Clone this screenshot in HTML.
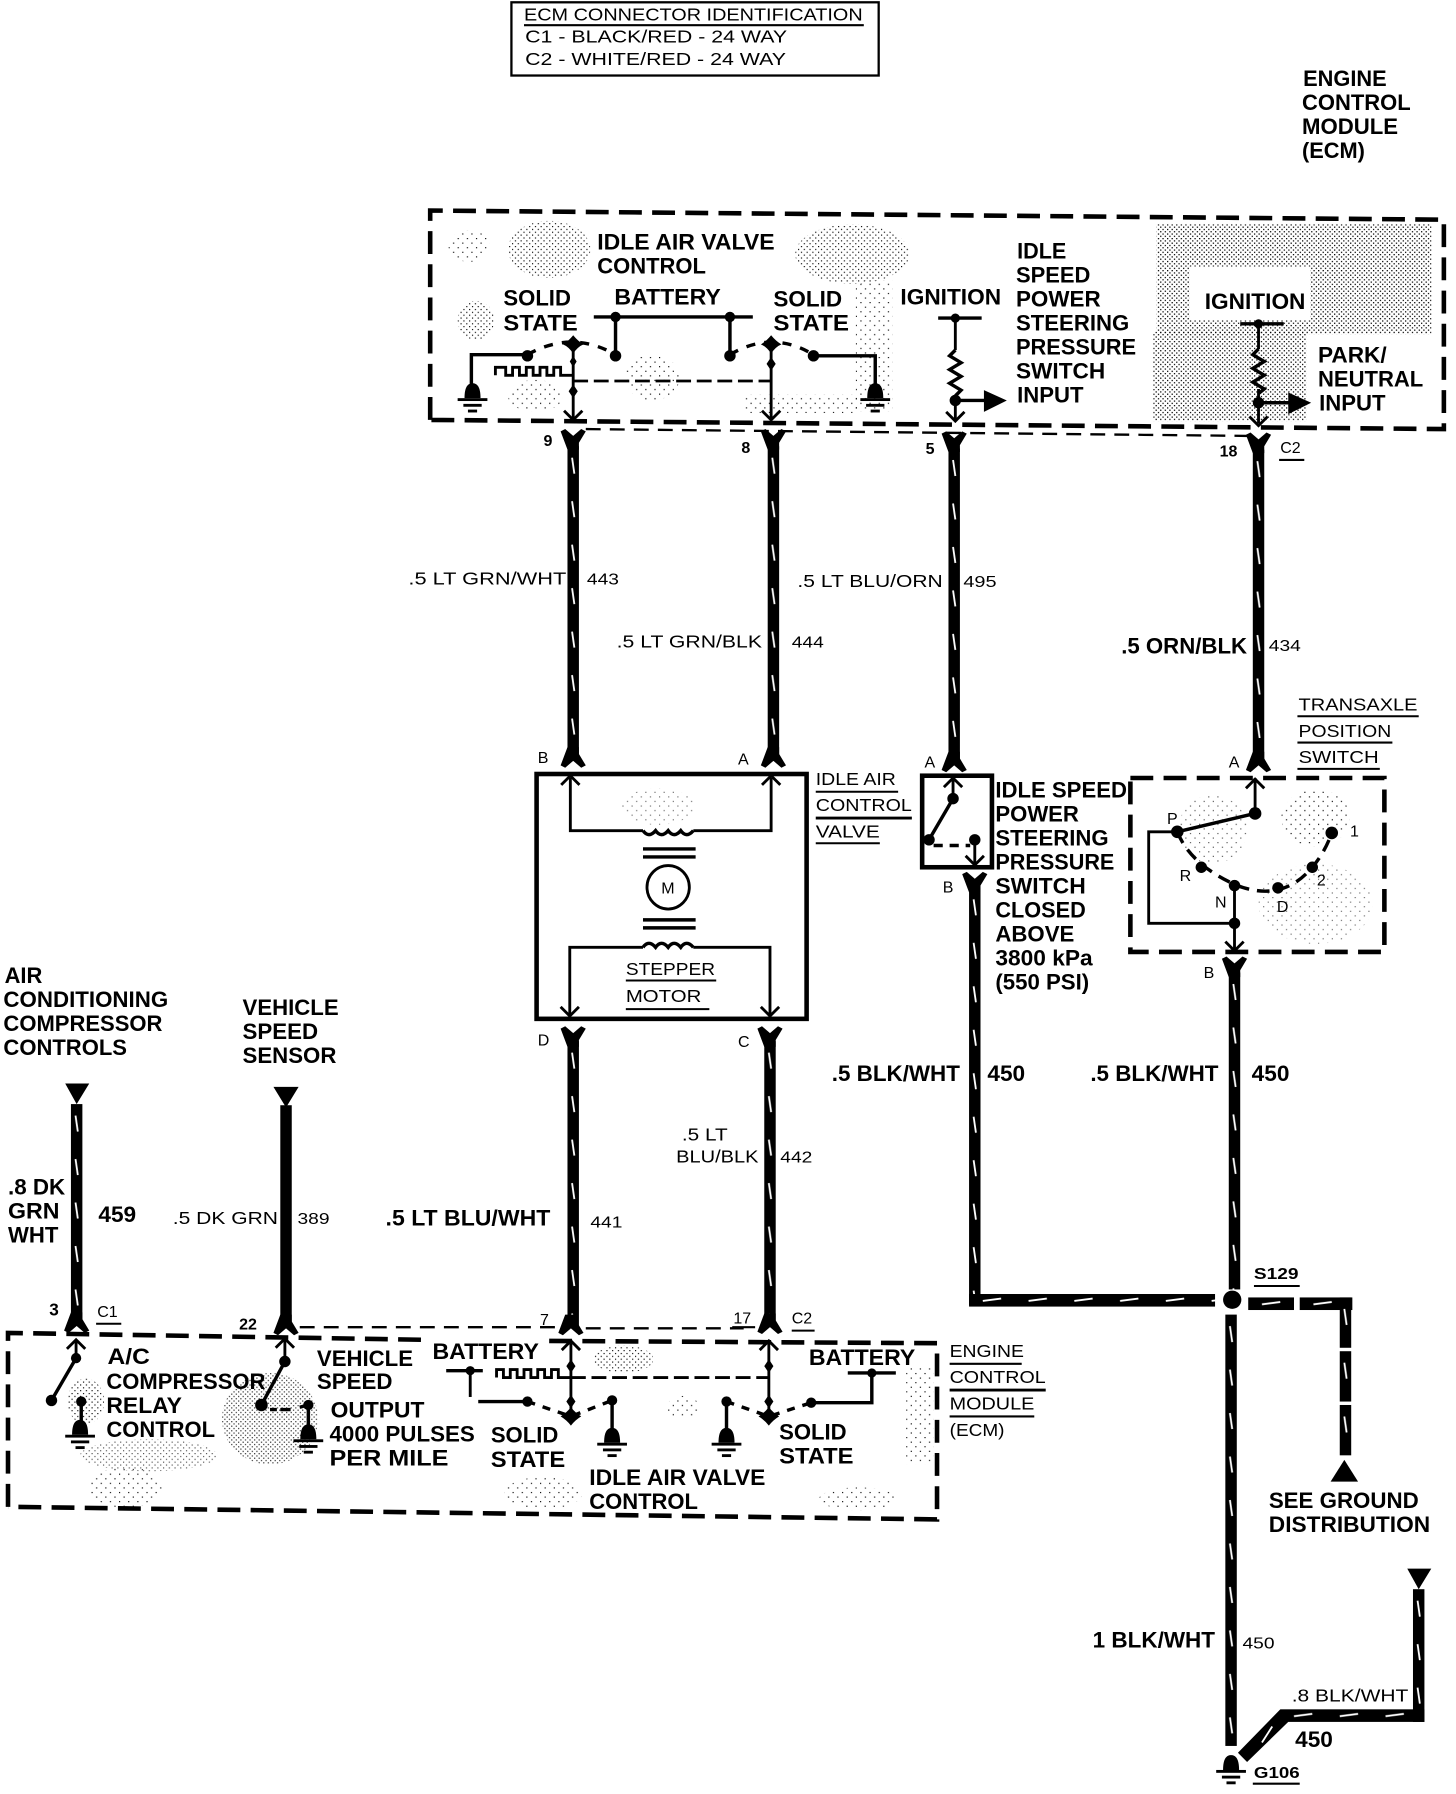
<!DOCTYPE html>
<html><head><meta charset="utf-8"><style>
html,body{margin:0;padding:0;background:#fff}
svg{display:block}
text{font-family:"Liberation Sans",sans-serif;fill:#000}
.b{font-weight:bold;font-size:19.5px}
.r{font-size:15px}
.n{font-size:14px}
.t{stroke:#000;stroke-width:3;fill:none}
.m{stroke:#000;stroke-width:2.5;fill:none}
.u{stroke:#000;stroke-width:1.8}
.d{stroke:#000;stroke-width:4;fill:none;stroke-dasharray:20 9}
</style></head><body>
<svg width="1456" height="1794" viewBox="0 0 1272.6 1568" xmlns="http://www.w3.org/2000/svg">
<defs>
<pattern id="p1" width="4" height="4" patternUnits="userSpaceOnUse"><rect width="1.1" height="1.1" fill="#000"/><rect x="2" y="2" width="1.1" height="1.1" fill="#000"/></pattern>
<pattern id="p3" width="5" height="5" patternUnits="userSpaceOnUse"><rect width="1" height="1" fill="#000"/><rect x="2.5" y="2.5" width="1" height="1" fill="#000"/></pattern>
<pattern id="p2" width="8" height="8" patternUnits="userSpaceOnUse"><rect width="1" height="1" fill="#000"/><rect x="4" y="4" width="1" height="1" fill="#000"/></pattern>
<pattern id="vw" width="10" height="38" patternUnits="userSpaceOnUse"><rect width="10" height="38" fill="#000"/><path d="M4 10L6 24" stroke="#fff" stroke-width="1.6"/></pattern>
<pattern id="hw" width="40" height="10" patternUnits="userSpaceOnUse"><rect width="40" height="10" fill="#000"/><path d="M12 6L28 4" stroke="#fff" stroke-width="1.6"/></pattern>
<path id="yf" d="M-11 -1L-7 -3L0 3L7 -3L11 -1L5 9L5 15L-5 15Z"/>
<path id="ah" d="M-8 -8L0 0L8 -8" fill="none" stroke="#000" stroke-width="2.5"/>
<g id="gnd"><path d="M-7 13C-7 3 -4 0 0 0C4 0 7 3 7 13Z"/><rect x="-13" y="13" width="26" height="2.5"/><rect x="-8" y="18" width="16" height="2.5"/><rect x="-4" y="23" width="8" height="2.5"/></g>
</defs>

<!-- stipple -->
<g>
<ellipse cx="480" cy="218" rx="36" ry="25" fill="url(#p3)"/>
<ellipse cx="416" cy="280" rx="16" ry="17" fill="url(#p3)"/>
<ellipse cx="410" cy="215" rx="18" ry="14" fill="url(#p2)"/>
<ellipse cx="468" cy="346" rx="24" ry="14" fill="url(#p2)"/>
<ellipse cx="570" cy="330" rx="24" ry="20" fill="url(#p2)"/>
<ellipse cx="745" cy="222" rx="50" ry="26" fill="url(#p3)"/>
<rect x="748" y="245" width="32" height="115" fill="url(#p2)"/>
<rect x="650" y="345" width="100" height="16" fill="url(#p2)"/>
<rect x="1011" y="196" width="240" height="96" fill="url(#p1)"/>
<rect x="1008" y="290" width="134" height="78" fill="url(#p1)"/>
<rect x="1040" y="233" width="105" height="47" fill="#fff"/>
<ellipse cx="575" cy="705" rx="32" ry="16" fill="url(#p2)" opacity=".6"/>
<ellipse cx="1060" cy="725" rx="30" ry="30" fill="url(#p2)" opacity=".7"/>
<ellipse cx="1150" cy="790" rx="50" ry="35" fill="url(#p2)" opacity=".6"/>
<ellipse cx="1150" cy="715" rx="30" ry="25" fill="url(#p2)"/>
<ellipse cx="236" cy="1240" rx="42" ry="40" fill="url(#p1)" opacity=".75"/>
<ellipse cx="130" cy="1272" rx="60" ry="14" fill="url(#p3)" opacity=".7"/>
<ellipse cx="110" cy="1300" rx="32" ry="18" fill="url(#p2)"/>
<ellipse cx="75" cy="1225" rx="16" ry="20" fill="url(#p3)"/>
<ellipse cx="545" cy="1188" rx="26" ry="12" fill="url(#p3)"/>
<ellipse cx="475" cy="1305" rx="34" ry="14" fill="url(#p2)"/>
<ellipse cx="597" cy="1230" rx="14" ry="10" fill="url(#p2)"/>
<rect x="792" y="1195" width="24" height="85" fill="url(#p2)"/>
<ellipse cx="750" cy="1310" rx="34" ry="10" fill="url(#p2)"/>
</g>

<!-- Connector ID table -->
<rect x="447" y="2" width="321" height="64" fill="none" stroke="#000" stroke-width="2"/>
<line x1="458" y1="22" x2="755" y2="22" class="u"/>
<text class="r" x="458" y="18" textLength="296" lengthAdjust="spacingAndGlyphs">ECM CONNECTOR IDENTIFICATION</text>
<text class="r" x="459" y="37" textLength="229" lengthAdjust="spacingAndGlyphs">C1 - BLACK/RED - 24 WAY</text>
<text class="r" x="459" y="57" textLength="228" lengthAdjust="spacingAndGlyphs">C2 - WHITE/RED - 24 WAY</text>

<text class="b" x="1139" y="75" textLength="73" lengthAdjust="spacingAndGlyphs">ENGINE</text>
<text class="b" x="1138" y="96" textLength="95" lengthAdjust="spacingAndGlyphs">CONTROL</text>
<text class="b" x="1138" y="117" textLength="84" lengthAdjust="spacingAndGlyphs">MODULE</text>
<text class="b" x="1138" y="138" textLength="55" lengthAdjust="spacingAndGlyphs">(ECM)</text>

<!-- top ECM box -->
<path class="d" d="M376 367L376 184L1262 192L1262 375L376 367"/>
<path d="M512 375L1090 381" stroke="#000" stroke-width="2" stroke-dasharray="13 8" fill="none"/>
<text class="b" x="522" y="218" textLength="155" lengthAdjust="spacingAndGlyphs">IDLE AIR VALVE</text>
<text class="b" x="522" y="239" textLength="95" lengthAdjust="spacingAndGlyphs">CONTROL</text>
<text class="b" x="440" y="267" textLength="59" lengthAdjust="spacingAndGlyphs">SOLID</text>
<text class="b" x="440" y="289" textLength="65" lengthAdjust="spacingAndGlyphs">STATE</text>
<text class="b" x="537" y="266" textLength="93" lengthAdjust="spacingAndGlyphs">BATTERY</text>
<text class="b" x="676" y="268" textLength="60" lengthAdjust="spacingAndGlyphs">SOLID</text>
<text class="b" x="676" y="289" textLength="66" lengthAdjust="spacingAndGlyphs">STATE</text>
<text class="b" x="787" y="266" textLength="88" lengthAdjust="spacingAndGlyphs">IGNITION</text>
<text class="b" x="889" y="226" textLength="43" lengthAdjust="spacingAndGlyphs">IDLE</text>
<text class="b" x="888" y="247" textLength="65" lengthAdjust="spacingAndGlyphs">SPEED</text>
<text class="b" x="888" y="268" textLength="74" lengthAdjust="spacingAndGlyphs">POWER</text>
<text class="b" x="888" y="289" textLength="99" lengthAdjust="spacingAndGlyphs">STEERING</text>
<text class="b" x="888" y="310" textLength="105" lengthAdjust="spacingAndGlyphs">PRESSURE</text>
<text class="b" x="888" y="331" textLength="78" lengthAdjust="spacingAndGlyphs">SWITCH</text>
<text class="b" x="889" y="352" textLength="58" lengthAdjust="spacingAndGlyphs">INPUT</text>
<text class="b" x="1053" y="270" textLength="88" lengthAdjust="spacingAndGlyphs">IGNITION</text>
<text class="b" x="1152" y="317" textLength="60" lengthAdjust="spacingAndGlyphs">PARK/</text>
<text class="b" x="1152" y="338" textLength="92" lengthAdjust="spacingAndGlyphs">NEUTRAL</text>
<text class="b" x="1153" y="359" textLength="58" lengthAdjust="spacingAndGlyphs">INPUT</text>

<!-- top circuit -->
<path class="t" d="M519 277H658M538 277V311M638 277V311"/>
<circle cx="538" cy="277" r="4.500"/><circle cx="638" cy="277" r="4.500"/>
<circle cx="538" cy="311" r="5"/><circle cx="638" cy="311" r="5"/>
<path class="t" d="M412 342V310H461"/><circle cx="461" cy="311" r="5"/>
<path class="t" stroke-dasharray="8 8" d="M461 310Q500 288 538 310"/>
<path class="t" stroke-dasharray="8 8" d="M638 310Q675 288 711 310"/>
<path class="t" d="M711 311H765V338"/><circle cx="711" cy="311" r="5"/>
<use href="#gnd" x="413" y="335"/><use href="#gnd" x="765" y="335"/>
<path class="m" d="M501 299V367M674 299V367"/>
<use href="#ah" x="501" y="367"/><use href="#ah" x="674" y="367"/>
<path d="M492 301Q497 298 501 293Q505 298 510 301Q505 303 501 309Q497 303 492 301ZM665 301Q670 298 674 293Q678 298 683 301Q678 303 674 309Q670 303 665 301Z"/>
<path d="M501 336l4 6l-4 6l-4 -6zM674 312l4 6l-4 6l-4 -6zM501 311l3 5l-3 5l-3 -5z"/>
<path class="m" d="M433 328V321H442V328H448V321H454V328H460V321H466V328H472V321H478V328H484V321H490V328H500"/>
<path class="m" stroke-dasharray="13 5" d="M501 333H675"/>
<path d="M820 278H858" class="t"/><path class="m" d="M835 278V306M835 346V367"/>
<circle cx="835" cy="278" r="4"/>
<polyline class="t" points="835,306 830,311 840,317 830,323 840,329 830,335 840,341 835,346"/>
<circle cx="835" cy="350" r="5"/>
<path class="t" d="M835 350H862"/><path d="M860 341L880 350L860 360Z"/>
<use href="#ah" x="835" y="368"/>
<path class="t" d="M1084 283H1122"/><circle cx="1100" cy="283" r="4"/>
<path class="m" d="M1100 283V305M1100 340V370"/>
<polyline class="t" points="1100,305 1095,310 1105,316 1095,322 1105,328 1095,334 1105,340 1100,344"/>
<circle cx="1100" cy="352" r="5"/>
<path class="t" d="M1100 352H1128"/><path d="M1126 343L1146 352L1126 362Z"/>
<use href="#ah" x="1100" y="372"/>

<!-- top connector labels -->
<text class="n" x="475" y="390" font-weight="bold">9</text>
<text class="n" x="648" y="396" font-weight="bold">8</text>
<text class="n" x="809" y="397" font-weight="bold">5</text>
<text class="n" x="1066" y="399" font-weight="bold">18</text>
<text class="n" x="1119" y="396">C2</text><line x1="1118" y1="402" x2="1140" y2="402" class="u"/>
<use href="#yf" x="501" y="378"/><use href="#yf" x="676" y="378"/><use href="#yf" x="834" y="380"/><use href="#yf" x="1100" y="381"/>

<!-- vertical wires upper -->
<rect width="10" height="275" fill="url(#vw)" transform="translate(496,390)"/>
<rect width="10" height="275" fill="url(#vw)" transform="translate(671,390)"/>
<rect width="10" height="275" fill="url(#vw)" transform="translate(829,392)"/>
<rect width="10" height="272" fill="url(#vw)" transform="translate(1095,393)"/>

<text class="r" x="357" y="511" textLength="138" lengthAdjust="spacingAndGlyphs">.5 LT GRN/WHT</text>
<text class="n" x="513" y="511" textLength="28" lengthAdjust="spacingAndGlyphs">443</text>
<text class="r" x="539" y="566" textLength="127" lengthAdjust="spacingAndGlyphs">.5 LT GRN/BLK</text>
<text class="n" x="692" y="566" textLength="28" lengthAdjust="spacingAndGlyphs">444</text>
<text class="r" x="697" y="513" textLength="127" lengthAdjust="spacingAndGlyphs">.5 LT BLU/ORN</text>
<text class="n" x="842" y="513" textLength="29" lengthAdjust="spacingAndGlyphs">495</text>
<text class="b" x="980" y="571" textLength="110" lengthAdjust="spacingAndGlyphs">.5 ORN/BLK</text>
<text class="n" x="1109" y="569" textLength="28" lengthAdjust="spacingAndGlyphs">434</text>

<text class="r" x="1135" y="621" textLength="104" lengthAdjust="spacingAndGlyphs">TRANSAXLE</text><line x1="1134" y1="626" x2="1240" y2="626" class="u"/>
<text class="r" x="1135" y="644" textLength="81" lengthAdjust="spacingAndGlyphs">POSITION</text><line x1="1134" y1="649" x2="1217" y2="649" class="u"/>
<text class="r" x="1135" y="667" textLength="70" lengthAdjust="spacingAndGlyphs">SWITCH</text><line x1="1134" y1="672" x2="1206" y2="672" class="u"/>

<!-- motor -->
<use href="#yf" transform="translate(501,668) scale(1,-1)"/><use href="#yf" transform="translate(676,668) scale(1,-1)"/>
<use href="#yf" transform="translate(834,672) scale(1,-1)"/><use href="#yf" transform="translate(1100,672) scale(1,-1)"/>
<text class="n" x="470" y="667">B</text><text class="n" x="645" y="668">A</text><text class="n" x="808" y="671">A</text><text class="n" x="1074" y="671">A</text>
<rect x="469" y="676.5" width="236" height="214" fill="none" stroke="#000" stroke-width="4"/>
<path class="m" d="M498.500 680V726H562M606 726H674V680"/>
<path class="t" d="M562 726q5 7 11 0q5 7 11 0q5 7 11 0q5 7 11 0"/>
<use href="#ah" transform="translate(498.500,678) scale(1,-1)"/><use href="#ah" transform="translate(674,678) scale(1,-1)"/>
<path class="t" d="M562 742H608M562 749H608M562 804H608M562 811H608"/>
<ellipse cx="584" cy="775.500" rx="18.500" ry="19" fill="none" stroke="#000" stroke-width="2.500"/>
<text class="n" x="578" y="781">M</text>
<path class="t" d="M562 828q5 -7 11 0q5 -7 11 0q5 -7 11 0q5 -7 11 0"/>
<path class="m" d="M498 888V828H562M606 828H673V888"/>
<use href="#ah" x="498" y="888"/><use href="#ah" x="673" y="888"/>
<text class="r" x="547" y="852" textLength="78" lengthAdjust="spacingAndGlyphs">STEPPER</text><line x1="547" y1="857" x2="626" y2="857" class="u"/>
<text class="r" x="547" y="876" textLength="66" lengthAdjust="spacingAndGlyphs">MOTOR</text><line x1="547" y1="882" x2="620" y2="882" class="u"/>
<text class="r" x="713" y="686" textLength="70" lengthAdjust="spacingAndGlyphs">IDLE AIR</text><line x1="713" y1="692" x2="785" y2="692" class="u"/>
<text class="r" x="713" y="709" textLength="84" lengthAdjust="spacingAndGlyphs">CONTROL</text><line x1="713" y1="715" x2="797" y2="715" stroke="#000" stroke-width="2.500"/>
<text class="r" x="713" y="732" textLength="56" lengthAdjust="spacingAndGlyphs">VALVE</text><line x1="713" y1="737" x2="769" y2="737" class="u"/>
<text class="n" x="470" y="914">D</text><text class="n" x="645" y="915">C</text>
<use href="#yf" x="501" y="900"/><use href="#yf" x="673" y="900"/>

<!-- pressure switch -->
<rect x="806" y="678" width="61" height="80" fill="none" stroke="#000" stroke-width="4"/>
<path class="m" d="M833 680V698M852 734V756"/><use href="#ah" transform="translate(833,680) scale(1,-1)"/><use href="#ah" x="852" y="756"/>
<circle cx="833" cy="698" r="5"/><circle cx="812" cy="734" r="5"/><circle cx="852" cy="734" r="5"/>
<path class="t" d="M833 698L812 734"/><path class="t" stroke-dasharray="8 6" d="M816 739H848"/>
<text class="n" x="824" y="780">B</text>
<use href="#yf" x="852" y="765"/>
<text class="b" x="870" y="697" textLength="115" lengthAdjust="spacingAndGlyphs">IDLE SPEED</text>
<text class="b" x="870" y="718" textLength="73" lengthAdjust="spacingAndGlyphs">POWER</text>
<text class="b" x="870" y="739" textLength="99" lengthAdjust="spacingAndGlyphs">STEERING</text>
<text class="b" x="870" y="760" textLength="104" lengthAdjust="spacingAndGlyphs">PRESSURE</text>
<text class="b" x="870" y="781" textLength="79" lengthAdjust="spacingAndGlyphs">SWITCH</text>
<text class="b" x="870" y="802" textLength="79" lengthAdjust="spacingAndGlyphs">CLOSED</text>
<text class="b" x="870" y="823" textLength="69" lengthAdjust="spacingAndGlyphs">ABOVE</text>
<text class="b" x="870" y="844" textLength="85" lengthAdjust="spacingAndGlyphs">3800 kPa</text>
<text class="b" x="870" y="865" textLength="82" lengthAdjust="spacingAndGlyphs">(550 PSI)</text>

<!-- transaxle switch -->
<rect x="988" y="680" width="222" height="152" class="d"/>
<path class="m" d="M1097 680V711"/><use href="#ah" transform="translate(1097,681) scale(1,-1)"/>
<circle cx="1097" cy="711" r="5.500"/><circle cx="1029" cy="727" r="5.500"/>
<path d="M1097 711L1029 727" class="t"/>
<path class="m" d="M1029 727H1004V807H1079"/>
<circle cx="1079" cy="807" r="5"/>
<path class="m" d="M1079 773V830"/><use href="#ah" x="1079" y="831"/>
<path class="t" stroke-dasharray="11 7" d="M1029 727Q1040 755 1079 773Q1120 790 1147 758Q1158 745 1164 728"/>
<circle cx="1050" cy="758" r="5"/><circle cx="1079" cy="774" r="5"/><circle cx="1117" cy="776" r="5"/><circle cx="1147" cy="758" r="5"/><circle cx="1164" cy="728" r="5.500"/>
<text class="n" x="1020" y="720">P</text><text class="n" x="1031" y="770">R</text><text class="n" x="1062" y="793">N</text><text class="n" x="1116" y="797">D</text><text class="n" x="1151" y="774">2</text><text class="n" x="1180" y="731">1</text>
<text class="n" x="1052" y="855">B</text>
<use href="#yf" x="1079" y="839"/>

<!-- lower wires -->
<rect width="10" height="365" fill="url(#vw)" transform="translate(847,776)"/>
<rect width="10" height="277" fill="url(#vw)" transform="translate(1074,850)"/>
<rect width="215" height="11" fill="url(#hw)" transform="translate(847,1131)"/>
<circle cx="1077" cy="1136" r="8"/>
<text class="n" x="1096" y="1118" font-weight="bold" textLength="39" lengthAdjust="spacingAndGlyphs">S129</text><line x1="1096" y1="1124" x2="1136" y2="1124" class="u"/>
<rect width="10" height="377" fill="url(#vw)" transform="translate(1071,1149)"/>
<rect width="40" height="11" fill="url(#hw)" transform="translate(1091,1134)"/>
<rect width="46" height="11" fill="url(#hw)" transform="translate(1136,1134)"/>
<rect width="10" height="44" fill="url(#vw)" transform="translate(1171,1134)"/>
<rect width="10" height="44" fill="url(#vw)" transform="translate(1171,1181)"/>
<rect width="10" height="44" fill="url(#vw)" transform="translate(1171,1228)"/>
<path d="M1175 1276L1163 1295H1187Z"/>
<text class="b" x="1109" y="1318" textLength="131" lengthAdjust="spacingAndGlyphs">SEE GROUND</text>
<text class="b" x="1109" y="1339" textLength="141" lengthAdjust="spacingAndGlyphs">DISTRIBUTION</text>
<path d="M1230 1371H1251L1240 1389Z"/>
<rect width="10" height="116" fill="url(#vw)" transform="translate(1235,1389)"/>
<rect width="126" height="11" fill="url(#hw)" transform="translate(1119,1494)"/>
<path d="M1119 1494L1082 1532L1090 1540L1126 1505Z"/>
<path d="M1112 1509L1103 1523" stroke="#fff" stroke-width="1.600"/>
<text class="r" x="1129" y="1487" textLength="102" lengthAdjust="spacingAndGlyphs">.8 BLK/WHT</text>
<text class="b" x="1132" y="1527" textLength="33" lengthAdjust="spacingAndGlyphs">450</text>
<text class="b" x="955" y="1440" textLength="107" lengthAdjust="spacingAndGlyphs">1 BLK/WHT</text>
<text class="n" x="1086" y="1441" textLength="28" lengthAdjust="spacingAndGlyphs">450</text>
<use href="#gnd" x="1076" y="1534"/>
<text class="n" x="1096" y="1554" font-weight="bold" textLength="40" lengthAdjust="spacingAndGlyphs">G106</text><line x1="1095" y1="1559" x2="1136" y2="1559" class="u"/>

<text class="b" x="727" y="945" textLength="112" lengthAdjust="spacingAndGlyphs">.5 BLK/WHT</text>
<text class="b" x="863" y="945" textLength="33" lengthAdjust="spacingAndGlyphs">450</text>
<text class="b" x="953" y="945" textLength="112" lengthAdjust="spacingAndGlyphs">.5 BLK/WHT</text>
<text class="b" x="1094" y="945" textLength="33" lengthAdjust="spacingAndGlyphs">450</text>

<rect width="10" height="250" fill="url(#vw)" transform="translate(496,910)"/>
<rect width="10" height="250" fill="url(#vw)" transform="translate(668,910)"/>
<text class="b" x="337" y="1071" textLength="144" lengthAdjust="spacingAndGlyphs">.5 LT BLU/WHT</text>
<text class="n" x="516" y="1073" textLength="28" lengthAdjust="spacingAndGlyphs">441</text>
<text class="r" x="596" y="997" textLength="40" lengthAdjust="spacingAndGlyphs">.5 LT</text>
<text class="r" x="591" y="1016" textLength="72" lengthAdjust="spacingAndGlyphs">BLU/BLK</text>
<text class="n" x="682" y="1016" textLength="28" lengthAdjust="spacingAndGlyphs">442</text>

<!-- left inputs -->
<text class="b" x="4" y="859" textLength="33" lengthAdjust="spacingAndGlyphs">AIR</text>
<text class="b" x="3" y="880" textLength="144" lengthAdjust="spacingAndGlyphs">CONDITIONING</text>
<text class="b" x="3" y="901" textLength="139" lengthAdjust="spacingAndGlyphs">COMPRESSOR</text>
<text class="b" x="3" y="922" textLength="108" lengthAdjust="spacingAndGlyphs">CONTROLS</text>
<text class="b" x="212" y="887" textLength="84" lengthAdjust="spacingAndGlyphs">VEHICLE</text>
<text class="b" x="212" y="908" textLength="66" lengthAdjust="spacingAndGlyphs">SPEED</text>
<text class="b" x="212" y="929" textLength="82" lengthAdjust="spacingAndGlyphs">SENSOR</text>
<path d="M57 947H78L67 965ZM239 950H261L250 968Z"/>
<rect width="10" height="190" fill="url(#vw)" transform="translate(62,965)"/>
<rect x="245" y="966" width="10" height="190"/>
<text class="b" x="7" y="1044" textLength="50" lengthAdjust="spacingAndGlyphs">.8 DK</text>
<text class="b" x="7" y="1065" textLength="45" lengthAdjust="spacingAndGlyphs">GRN</text>
<text class="b" x="7" y="1086" textLength="44" lengthAdjust="spacingAndGlyphs">WHT</text>
<text class="b" x="86" y="1068" textLength="33" lengthAdjust="spacingAndGlyphs">459</text>
<text class="r" x="151" y="1070" textLength="92" lengthAdjust="spacingAndGlyphs">.5 DK GRN</text>
<text class="n" x="260" y="1070" textLength="28" lengthAdjust="spacingAndGlyphs">389</text>

<text x="43" y="1150" font-weight="bold" font-size="15">3</text>
<text class="n" x="85" y="1151">C1</text><line x1="84" y1="1157" x2="106" y2="1157" class="u"/>
<text class="n" x="209" y="1162" font-weight="bold">22</text>
<text class="n" x="472" y="1158">7</text>
<text class="n" x="641" y="1157">17</text>
<text class="n" x="692" y="1157">C2</text><line x1="692" y1="1163" x2="712" y2="1163" class="u"/>
<line x1="640" y1="1160" x2="660" y2="1160" class="u"/>
<use href="#yf" transform="translate(67,1162) scale(1,-1)"/>
<use href="#yf" transform="translate(250,1164) scale(1,-1)"/>
<use href="#yf" transform="translate(499,1164) scale(1,-1)"/>
<use href="#yf" transform="translate(673,1163) scale(1,-1)"/>
<path d="M262 1160H488M512 1161H650" stroke="#000" stroke-width="2" stroke-dasharray="13 8" fill="none"/>

<!-- bottom ECM box -->
<path class="d" d="M7 1317V1165L370 1171M480 1172L819 1174V1328L7 1317"/>

<text class="b" x="94" y="1192" textLength="37" lengthAdjust="spacingAndGlyphs">A/C</text>
<text class="b" x="93" y="1214" textLength="139" lengthAdjust="spacingAndGlyphs">COMPRESSOR</text>
<text class="b" x="93" y="1235" textLength="66" lengthAdjust="spacingAndGlyphs">RELAY</text>
<text class="b" x="93" y="1256" textLength="95" lengthAdjust="spacingAndGlyphs">CONTROL</text>
<text class="b" x="277" y="1194" textLength="84" lengthAdjust="spacingAndGlyphs">VEHICLE</text>
<text class="b" x="277" y="1214" textLength="66" lengthAdjust="spacingAndGlyphs">SPEED</text>
<text class="b" x="289" y="1239" textLength="82" lengthAdjust="spacingAndGlyphs">OUTPUT</text>
<text class="b" x="288" y="1260" textLength="127" lengthAdjust="spacingAndGlyphs">4000 PULSES</text>
<text class="b" x="288" y="1281" textLength="104" lengthAdjust="spacingAndGlyphs">PER MILE</text>
<text class="b" x="378" y="1188" textLength="93" lengthAdjust="spacingAndGlyphs">BATTERY</text>
<text class="b" x="707" y="1193" textLength="93" lengthAdjust="spacingAndGlyphs">BATTERY</text>
<text class="b" x="429" y="1261" textLength="59" lengthAdjust="spacingAndGlyphs">SOLID</text>
<text class="b" x="429" y="1282" textLength="65" lengthAdjust="spacingAndGlyphs">STATE</text>
<text class="b" x="681" y="1258" textLength="59" lengthAdjust="spacingAndGlyphs">SOLID</text>
<text class="b" x="681" y="1279" textLength="65" lengthAdjust="spacingAndGlyphs">STATE</text>
<text class="b" x="515" y="1298" textLength="154" lengthAdjust="spacingAndGlyphs">IDLE AIR VALVE</text>
<text class="b" x="515" y="1319" textLength="95" lengthAdjust="spacingAndGlyphs">CONTROL</text>
<text class="r" x="830" y="1186" textLength="65" lengthAdjust="spacingAndGlyphs">ENGINE</text><line x1="830" y1="1192" x2="893" y2="1192" class="u"/>
<text class="r" x="830" y="1209" textLength="84" lengthAdjust="spacingAndGlyphs">CONTROL</text><line x1="830" y1="1215" x2="914" y2="1215" stroke="#000" stroke-width="2.500"/>
<text class="r" x="830" y="1232" textLength="74" lengthAdjust="spacingAndGlyphs">MODULE</text><line x1="830" y1="1238" x2="904" y2="1238" class="u"/>
<text class="r" x="830" y="1255" textLength="48" lengthAdjust="spacingAndGlyphs">(ECM)</text>

<!-- A/C relay -->
<path class="m" d="M66.500 1171V1187"/><use href="#ah" transform="translate(66.500,1171) scale(1,-1)"/>
<circle cx="66.500" cy="1187" r="4.500"/><path class="t" d="M66.500 1187L45 1224"/>
<circle cx="45" cy="1224" r="5"/><circle cx="71" cy="1225" r="4.500"/>
<path class="t" d="M71 1225V1244"/><use href="#gnd" x="70" y="1241"/>
<!-- vehicle speed -->
<path class="m" d="M249 1170V1190"/><use href="#ah" transform="translate(249,1170) scale(1,-1)"/>
<circle cx="249" cy="1190" r="5"/><path class="t" d="M249 1190L228.500 1228"/>
<circle cx="228.500" cy="1228" r="5.500"/><circle cx="269.500" cy="1228" r="4.500"/>
<path class="t" d="M236 1232H242M245 1232H254M262 1230L269 1228"/>
<path class="t" d="M269.500 1228V1248"/><use href="#gnd" x="269.500" y="1245"/>
<!-- lower idle air drivers -->
<path class="t" d="M390 1198H422"/><circle cx="411" cy="1198" r="4"/>
<path class="m" d="M411 1198V1221"/>
<path class="t" d="M418 1225H461"/><circle cx="461" cy="1225" r="4.500"/>
<path class="t" stroke-dasharray="7 7" d="M461 1225L499 1238L535 1224"/>
<circle cx="535" cy="1224" r="4.500"/><path class="t" d="M535 1224V1250"/><use href="#gnd" x="535" y="1248"/>
<path class="m" d="M499 1174V1238M672 1174V1238"/>
<use href="#ah" transform="translate(499,1172) scale(1,-1)"/><use href="#ah" transform="translate(672,1172) scale(1,-1)"/>
<path d="M490 1238Q495 1235 499 1230Q503 1235 508 1238Q503 1241 499 1246Q495 1241 490 1238ZM663 1238Q668 1235 672 1230Q676 1235 681 1238Q676 1241 672 1246Q668 1241 663 1238Z"/>
<path d="M499 1188l4 6l-4 6l-4 -6zM672 1188l4 6l-4 6l-4 -6zM499 1219l4 6l-4 6l-4 -6zM672 1219l4 6l-4 6l-4 -6z"/>
<path class="m" d="M434 1204V1197H440V1204H446V1197H452V1204H458V1197H464V1204H470V1197H476V1204H482V1197H488V1204H499"/>
<path class="m" stroke-dasharray="13 5" d="M499 1204H672"/>
<circle cx="635" cy="1225" r="4.500"/><path class="t" d="M635 1225V1250"/><use href="#gnd" x="635" y="1248"/>
<path class="t" stroke-dasharray="7 7" d="M635 1225L672 1238L709 1226"/>
<circle cx="709" cy="1226" r="4.500"/><path class="t" d="M709 1226H762V1200"/>
<path class="t" d="M741 1200H783"/><circle cx="762" cy="1200" r="4"/>
</svg>
</body></html>
